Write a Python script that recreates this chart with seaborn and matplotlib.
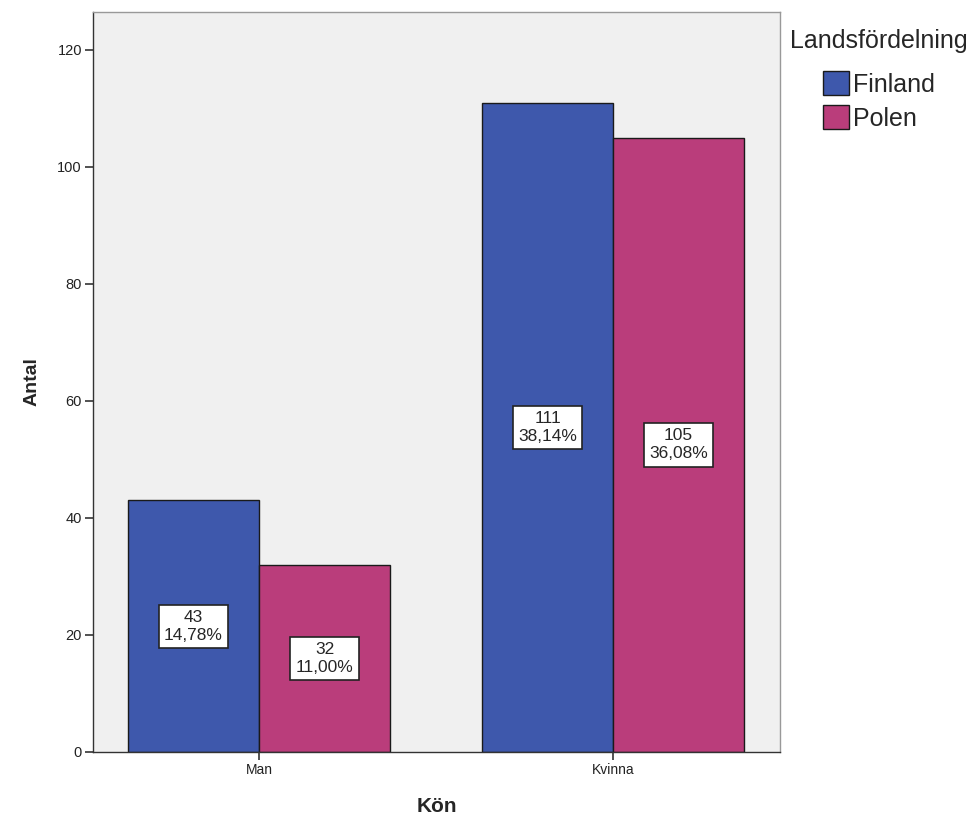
import pandas as pd
import matplotlib
matplotlib.use("Agg")
import matplotlib.pyplot as plt
import seaborn as sns

# data
kon = ["Man", "Kvinna"]
lander = ["Finland", "Polen"]
finland = [43, 111]
polen = [32, 105]
finland_pct = ["14,78%", "38,14%"]
polen_pct = ["11,00%", "36,08%"]

df = pd.DataFrame({
    "Kön": kon * 2,
    "Landsfördelning": ["Finland"] * 2 + ["Polen"] * 2,
    "Antal": finland + polen,
    "pct": finland_pct + polen_pct,
})

sns.set_style("white")
plt.rcParams["font.family"] = ["Liberation Sans", "DejaVu Sans"]

fig = plt.figure(figsize=(9.8, 8.25), dpi=100)
ax = fig.add_axes([0.0949, 0.0885, 0.7011, 0.897])
ax.set_facecolor("#F0F0F0")

farger = {"Finland": "#3E58AC", "Polen": "#BA3D7B"}
sns.barplot(data=df, x="Kön", y="Antal", hue="Landsfördelning", order=kon,
            hue_order=lander, palette=farger, width=0.74, edgecolor="#1a1a1a",
            linewidth=1.0, saturation=1, ax=ax)

# etiketter mitt i staplarna
for cont, land in zip(ax.containers, lander):
    sub = df[df["Landsfördelning"] == land].set_index("Kön").loc[kon]
    for bar, (n, p) in zip(cont, zip(sub["Antal"], sub["pct"])):
        ax.text(bar.get_x() + bar.get_width() / 2, bar.get_height() / 2,
                f"{n}\n{p}", ha="center", va="center", fontsize=12.5,
                linespacing=1.25,
                bbox=dict(boxstyle="square,pad=0.3", fc="white", ec="#222222", lw=1.2))

ax.set_xlim(-0.469, 1.472)
ax.set_ylim(0, 126.5)
ax.set_yticks([0, 20, 40, 60, 80, 100, 120])
ax.tick_params(axis="both", which="both", bottom=True, left=True, length=6,
               width=1.2, color="#333333", labelsize=10.5, labelcolor="#222222",
               direction="out", pad=2)
ax.tick_params(axis="x", labelsize=10)
for s in ax.spines.values():
    s.set_color("#999999")
    s.set_linewidth(1)
ax.spines["left"].set_color("#333333")
ax.spines["bottom"].set_color("#333333")

ax.set_xlabel("Kön", fontsize=15, fontweight="bold", labelpad=14)
ax.set_ylabel("Antal", fontsize=14, fontweight="bold", labelpad=12)

leg = ax.legend(title="Landsfördelning", loc="upper left", bbox_to_anchor=(0.993, 0.997),
                frameon=False, fontsize=18, title_fontsize=18, handlelength=1.05,
                handleheight=1.1, handletextpad=0.15, borderaxespad=0.3,
                labelspacing=0.35, borderpad=0.3)
leg._legend_box.sep = 13

fig.savefig("out.png", dpi=100)
